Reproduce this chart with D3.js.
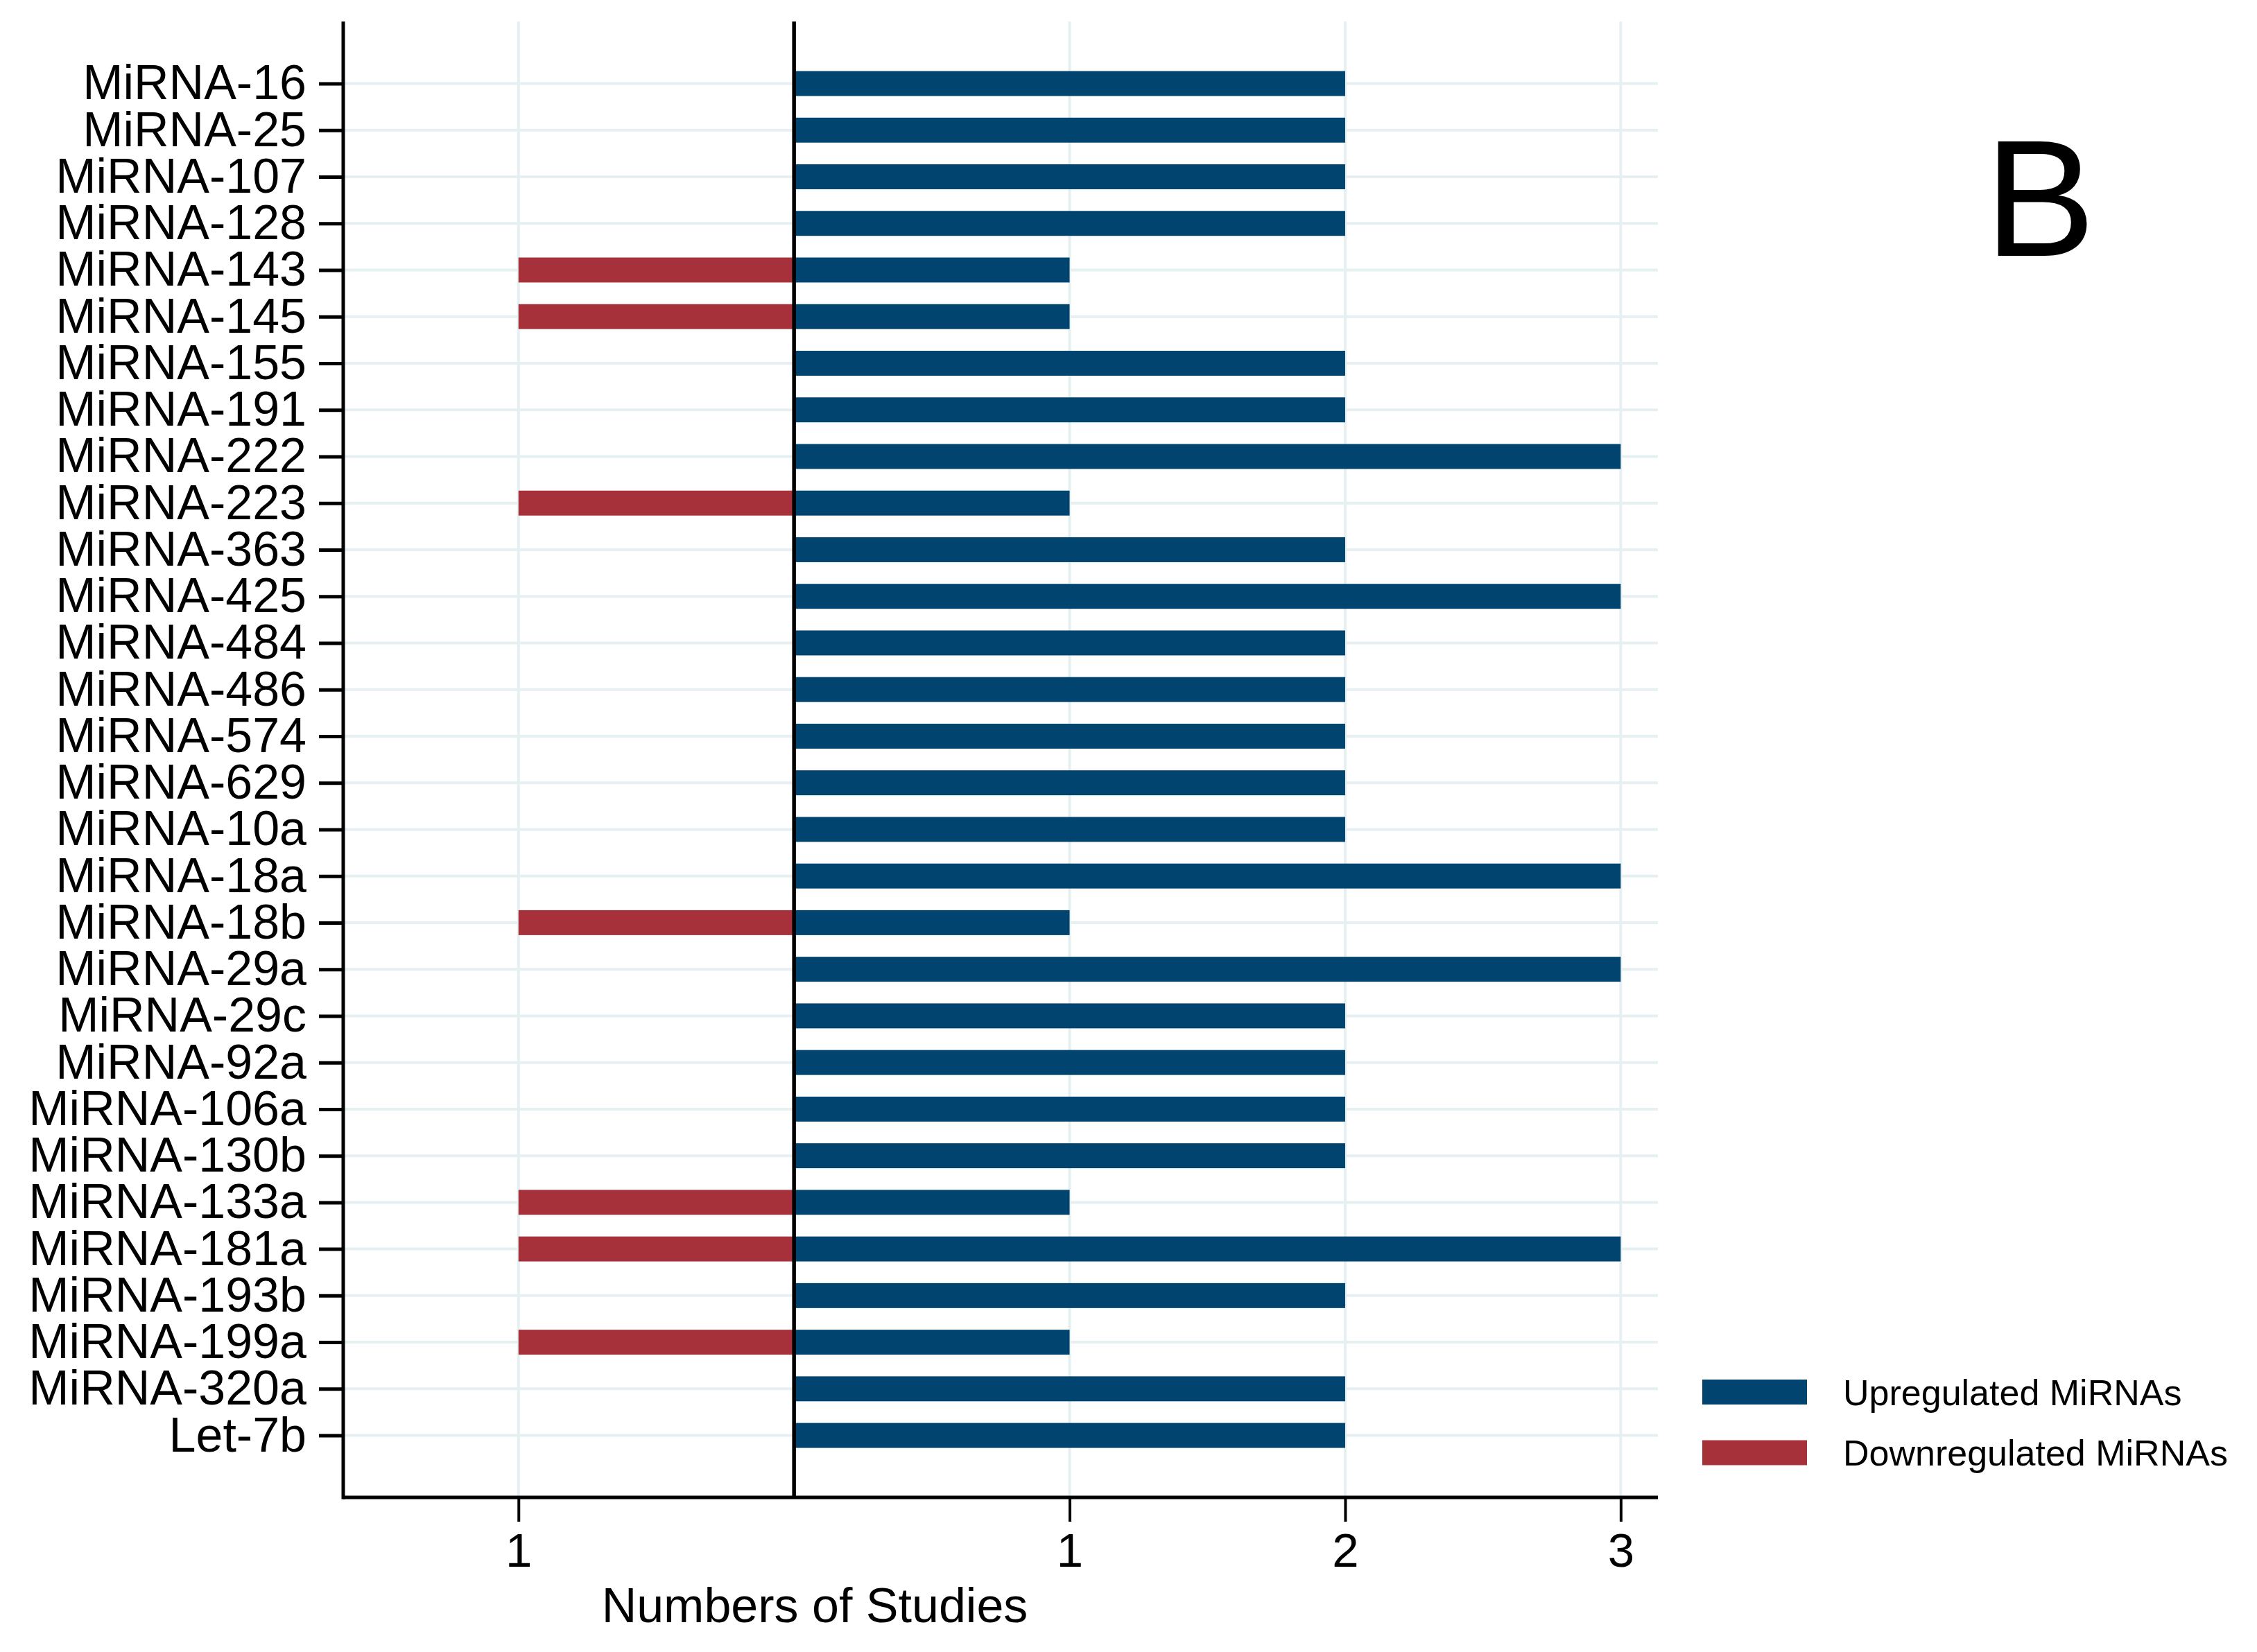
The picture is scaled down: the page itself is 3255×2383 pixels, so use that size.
<!DOCTYPE html>
<html lang="en">
<head>
  <meta charset="UTF-8">
  <title>MiRNA studies</title>
  <script src="https://d3js.org/d3.v7.min.js"></script>
  <style>
    body { margin: 0; background: #fff; }
    svg { display: block; font-family: "Liberation Sans", Arial, sans-serif; }
  </style>
</head>
<body>
  <svg width="3255" height="2383"></svg>
  <script>
    // data
    const mirnas = ["MiRNA-16", "MiRNA-25", "MiRNA-107", "MiRNA-128", "MiRNA-143", "MiRNA-145",
      "MiRNA-155", "MiRNA-191", "MiRNA-222", "MiRNA-223", "MiRNA-363", "MiRNA-425", "MiRNA-484",
      "MiRNA-486", "MiRNA-574", "MiRNA-629", "MiRNA-10a", "MiRNA-18a", "MiRNA-18b", "MiRNA-29a",
      "MiRNA-29c", "MiRNA-92a", "MiRNA-106a", "MiRNA-130b", "MiRNA-133a", "MiRNA-181a",
      "MiRNA-193b", "MiRNA-199a", "MiRNA-320a", "Let-7b"];
    const upregulated = [2, 2, 2, 2, 1, 1, 2, 2, 3, 1, 2, 3, 2, 2, 2, 2, 2, 3, 1, 3, 2, 2, 2, 2, 1, 3, 2, 1, 2, 2];
    const downregulated = [0, 0, 0, 0, 1, 1, 0, 0, 0, 1, 0, 0, 0, 0, 0, 0, 0, 0, 1, 0, 0, 0, 0, 0, 1, 1, 0, 1, 0, 0];
    const xTicks = [-1, 1, 2, 3];
    const legendLabels = ["Upregulated MiRNAs", "Downregulated MiRNAs"];

    const blue = "#00446f", red = "#a6313b", grid = "#e6eff1";
    const svg = d3.select("svg");

    const plotL = 495, plotR = 2391, plotT = 31, plotB = 2160;
    const x = d3.scaleLinear().domain([-1.636, 3.135]).range([plotL, plotR]);
    const y = d3.scalePoint().domain(mirnas).range([120.5, 2070.6]);
    const barH = y.step() * 0.535;

    // grid
    svg.append("g").selectAll("line").data(mirnas).join("line")
      .attr("x1", plotL).attr("x2", plotR)
      .attr("y1", d => y(d)).attr("y2", d => y(d))
      .attr("stroke", grid).attr("stroke-width", 4);
    svg.append("g").selectAll("line").data(xTicks).join("line")
      .attr("x1", d => x(d)).attr("x2", d => x(d))
      .attr("y1", plotT).attr("y2", plotB)
      .attr("stroke", grid).attr("stroke-width", 4);

    // bars
    svg.append("g").selectAll("rect").data(mirnas).join("rect")
      .attr("x", x(0))
      .attr("y", d => y(d) - barH / 2)
      .attr("width", (d, i) => x(upregulated[i]) - x(0))
      .attr("height", barH)
      .attr("fill", blue);
    svg.append("g").selectAll("rect").data(mirnas.filter((d, i) => downregulated[i] > 0)).join("rect")
      .attr("x", d => x(-downregulated[mirnas.indexOf(d)]))
      .attr("y", d => y(d) - barH / 2)
      .attr("width", d => x(0) - x(-downregulated[mirnas.indexOf(d)]))
      .attr("height", barH)
      .attr("fill", red);

    // zero line
    svg.append("line")
      .attr("x1", x(0)).attr("x2", x(0)).attr("y1", plotT).attr("y2", plotB)
      .attr("stroke", "#000").attr("stroke-width", 5.5);

    // y axis
    const yAxis = svg.append("g")
      .attr("transform", `translate(${plotL},0)`)
      .call(d3.axisLeft(y).tickSize(35).tickPadding(18));
    yAxis.select(".domain").remove();
    yAxis.selectAll(".tick line").attr("stroke-width", 5);
    yAxis.selectAll("text").attr("font-size", 70).attr("fill", "#000")
      .attr("font-family", "Liberation Sans, Arial, sans-serif");
    svg.append("line").attr("x1", plotL).attr("x2", plotL).attr("y1", plotT).attr("y2", plotB + 2.5)
      .attr("stroke", "#000").attr("stroke-width", 5);

    // x axis
    const xAxis = svg.append("g")
      .attr("transform", `translate(0,${plotB})`)
      .call(d3.axisBottom(x).tickValues(xTicks).tickFormat(d => Math.abs(d)).tickSize(35).tickPadding(16));
    xAxis.select(".domain").remove();
    xAxis.selectAll(".tick line").attr("stroke-width", 4);
    xAxis.selectAll("text").attr("font-size", 69).attr("fill", "#000")
      .attr("font-family", "Liberation Sans, Arial, sans-serif");
    svg.append("line").attr("x1", plotL).attr("x2", plotR).attr("y1", plotB).attr("y2", plotB)
      .attr("stroke", "#000").attr("stroke-width", 5);

    svg.append("text")
      .attr("x", 1175).attr("y", 2340)
      .attr("text-anchor", "middle").attr("font-size", 70)
      .text("Numbers of Studies");

    // legend
    const legend = svg.append("g").selectAll("g").data(legendLabels).join("g")
      .attr("transform", (d, i) => `translate(2455,${2008 + i * 87.5})`);
    legend.append("rect")
      .attr("x", 0).attr("y", -18).attr("width", 151).attr("height", 36)
      .attr("fill", (d, i) => i === 0 ? blue : red);
    legend.append("text")
      .attr("x", 203).attr("dy", "0.36em").attr("font-size", 52)
      .text(d => d);

    // panel letter
    svg.append("text")
      .attr("x", 2862).attr("y", 369)
      .attr("font-size", 240)
      .text("B");
  </script>
</body>
</html>
